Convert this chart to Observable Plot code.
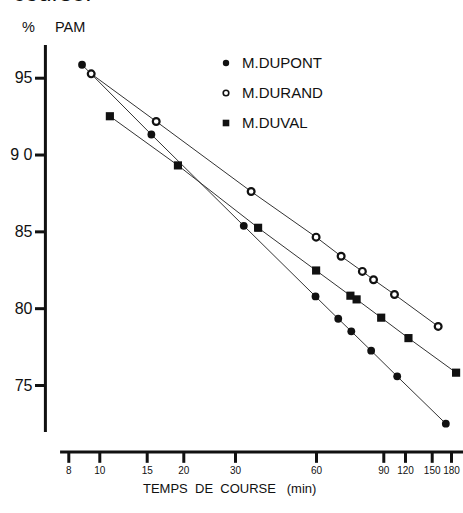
<!DOCTYPE html>
<html>
<head>
<meta charset="utf-8">
<script src="https://cdn.jsdelivr.net/npm/d3@7"></script>
<script src="https://cdn.jsdelivr.net/npm/@observablehq/plot@0.6"></script>
<style>
  html, body { margin: 0; padding: 0; background: #fff; }
  #wrap { position: relative; width: 463px; height: 513px; overflow: hidden; font-family: "Liberation Sans", Arial, sans-serif; color: #111; }
  #wrap svg { position: absolute; left: 0; top: 0; }
  .txt { position: absolute; white-space: nowrap; }
</style>
</head>
<body>
<div id="wrap">
  <div class="txt" id="head" style="left:13px; top:-21px; font-size:24px;">course.</div>
  <div class="txt" style="left:22px; top:19px; font-size:14.5px;">%</div>
  <div class="txt" style="left:55px; top:19px; font-size:14.5px;">PAM</div>
  <div class="txt" style="left:143px; top:481px; font-size:13px;">TEMPS&nbsp; DE&nbsp; COURSE&nbsp;&nbsp; (min)</div>
  <div id="legend"></div>
</div>
<script>
// ---- data ----
const series = ["M.DUPONT", "M.DURAND", "M.DUVAL"];
const dupontTime = [8.8, 15.5, 32.2, 59.5, 68.4, 74, 83.4, 107.5, 170.6];
const dupontPAM  = [96.2, 91.66, 85.72, 81.12, 79.67, 78.85, 77.59, 75.92, 72.84];
const durandTime = [9.4, 16.1, 34.3, 59.8, 69.6, 79.1, 84.6, 103.7, 158.7];
const durandPAM  = [95.61, 92.51, 87.95, 84.98, 83.74, 82.75, 82.21, 81.25, 79.17];
const duvalTime  = [10.9, 19.1, 36.4, 59.8, 73.6, 76.4, 88.6, 123, 188];
const duvalPAM   = [92.85, 89.65, 85.59, 82.81, 81.17, 80.93, 79.74, 78.41, 76.16];
const xTicks = [8, 10, 15, 20, 30, 60, 90, 120, 150, 180];
const xTickLabels = ["8", "10", "15", "20", "30", "60", "90", "120", "150", "180"];
const yTicks = [75, 80, 85, 90, 95];
const yTickLabels = ["75", "80", "85", "9 0", "95"];

// ---- build table ----
const rows = [];
[[dupontTime, dupontPAM], [durandTime, durandPAM], [duvalTime, duvalPAM]].forEach(([t, p], i) => {
  t.forEach((v, j) => rows.push({name: series[i], t: v, pam: p[j]}));
});

// hand-drawn (roughly logarithmic) time axis: piecewise positions of the printed ticks
const xRange = [68.3, 99.3, 146.7, 183.3, 235, 316, 383.3, 405, 431.7, 451];

const W = 463, H = 513;
const ink = "#111";
const chart = Plot.plot({
  width: W,
  height: H,
  marginLeft: 45,
  marginRight: 0,
  marginTop: 0,
  marginBottom: 61.3,
  style: {fontFamily: "'Liberation Sans', Arial, sans-serif", color: ink, background: "transparent"},
  x: {type: "log", domain: xTicks, range: xRange, axis: null},
  y: {domain: [75, 95], range: [390, 82.7], axis: null},
  marks: [
    // axis lines
    Plot.ruleX([6.76], {y1: 72.27, y2: 97.45, stroke: ink, strokeWidth: 3}),
    Plot.ruleY([71.0], {x1: 7.54, x2: 210, stroke: ink, strokeWidth: 3}),
    // x ticks and labels
    Plot.ruleX(xTicks, {x: d => d, y1: 71.0, y2: 70.26, stroke: ink, strokeWidth: 3}),
    Plot.text(xTicks, {x: d => d, text: (d, i) => xTickLabels[i], frameAnchor: "bottom", dy: 22, fontSize: 10, fill: ink}),
    // y ticks and labels
    Plot.axisY(yTicks, {anchor: "left", tickSize: 10, strokeWidth: 3, tickPadding: 3, fontSize: 16, dy: -5,
      tickFormat: d => yTickLabels[yTicks.indexOf(d)], label: null}),
    // lines
    Plot.line(rows, {x: "t", y: "pam", z: "name", stroke: "#333", strokeWidth: 1}),
    // markers
    Plot.dot(rows.filter(d => d.name === "M.DUPONT"), {x: "t", y: "pam", r: 3.9, fill: ink, stroke: "none"}),
    Plot.dot(rows.filter(d => d.name === "M.DURAND"), {x: "t", y: "pam", r: 3.4, fill: "#fff", stroke: ink, strokeWidth: 2.2}),
    Plot.dot(rows.filter(d => d.name === "M.DUVAL"), {x: "t", y: "pam", r: 4.6, symbol: "square", fill: ink, stroke: "none"})
  ]
});
document.getElementById("wrap").appendChild(chart);

// legend
const legend = document.getElementById("legend");
const symbols = [
  '<circle cx="8" cy="8" r="3.2" fill="#111"/>',
  '<circle cx="8" cy="8" r="2.8" fill="#fff" stroke="#111" stroke-width="1.6"/>',
  '<rect x="4.7" y="4.7" width="6.6" height="6.6" fill="#111"/>'
];
series.forEach((s, i) => {
  const row = document.createElement("div");
  row.className = "txt";
  row.style.left = "218px";
  row.style.top = (54 + i * 30) + "px";
  row.style.fontSize = "15px";
  row.style.display = "flex";
  row.style.alignItems = "center";
  row.innerHTML = `<svg width="16" height="16" style="position:static">${symbols[i]}</svg><span style="margin-left:8px">${s}</span>`;
  legend.appendChild(row);
});
</script>
</body>
</html>
